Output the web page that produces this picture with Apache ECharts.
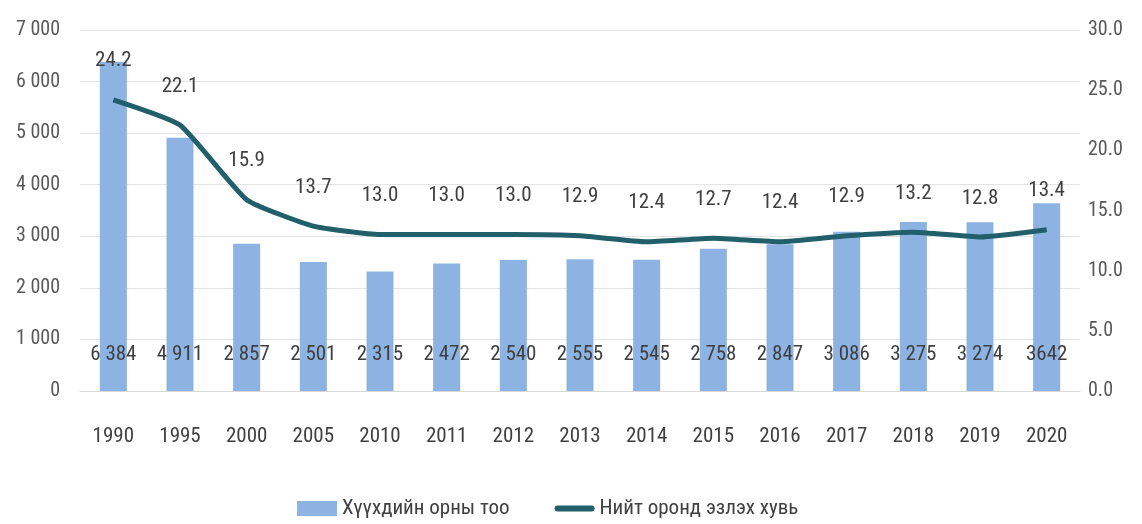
<!DOCTYPE html>
<html><head><meta charset="utf-8">
<script src="https://cdn.jsdelivr.net/npm/echarts@6/dist/echarts.min.js"></script>
<style>html,body{margin:0;padding:0;background:#fff}#c{width:1142px;height:524px}</style>
</head><body><div id="c"></div>
<script>
const categories = ['1990','1995','2000','2005','2010','2011','2012','2013','2014','2015','2016','2017','2018','2019','2020'];
const bedCounts = [6384, 4911, 2857, 2501, 2315, 2472, 2540, 2555, 2545, 2758, 2847, 3086, 3275, 3274, 3642];
const bedLabels = ['6 384','4 911','2 857','2 501','2 315','2 472','2 540','2 555','2 545','2 758','2 847','3 086','3 275','3 274','3642'];
const occupancy = [24.2, 22.1, 15.9, 13.7, 13.0, 13.0, 13.0, 12.9, 12.4, 12.7, 12.4, 12.9, 13.2, 12.8, 13.4];
const leftTicks = ['0','1 000','2 000','3 000','4 000','5 000','6 000','7 000'];

const FONT = '"Liberation Sans Narrow","Roboto Condensed",Roboto,sans-serif';
const chart = echarts.init(document.getElementById('c'));
chart.setOption({
  animation: false,
  textStyle: {fontFamily: FONT},
  grid: {left: 80, right: 62, top: 30, bottom: 133},
  legend: {
    bottom: 0, left: 292, itemGap: 45, itemWidth: 40, itemHeight: 15,
    textStyle: {fontFamily: FONT, fontSize: 21, color: '#404040'},
    data: [
      {name: 'Хүүхдийн орны тоо', icon: 'rect'},
      {name: 'Нийт оронд эзлэх хувь', icon: 'path://M3,0 L37,0 A3,3 0 0 1 37,6 L3,6 A3,3 0 0 1 3,0 Z'}
    ]
  },
  xAxis: {
    type: 'category', data: categories,
    axisLine: {show: true, lineStyle: {color: '#d9d9d9'}},
    axisTick: {show: false},
    axisLabel: {fontFamily: FONT, fontSize: 21, color: '#404040', margin: 35}
  },
  yAxis: [{
    type: 'value', min: 0, max: 7000, interval: 1000,
    axisLine: {show: false}, axisTick: {show: false},
    splitLine: {lineStyle: {color: '#e3e3e3', width: 1}},
    axisLabel: {fontFamily: FONT, fontSize: 20, color: '#595959', margin: 20,
      formatter: (v) => leftTicks[Math.round(v / 1000)]}
  }, {
    type: 'value', min: 0, max: 30, interval: 5,
    axisLine: {show: false}, axisTick: {show: false}, splitLine: {show: false},
    axisLabel: {fontFamily: FONT, fontSize: 20, color: '#595959', margin: 8,
      formatter: (v) => v.toFixed(1)}
  }],
  series: [{
    name: 'Хүүхдийн орны тоо', type: 'bar', data: bedCounts, barWidth: 27,
    itemStyle: {color: '#8db3e2'},
    label: {show: true, position: 'insideBottom', distance: 26,
      fontFamily: FONT, fontSize: 21, color: '#404040',
      formatter: (p) => bedLabels[p.dataIndex]}
  }, {
    name: 'Нийт оронд эзлэх хувь', type: 'line', yAxisIndex: 1, data: occupancy,
    symbol: 'circle', symbolSize: 0.1, showSymbol: true, smooth: 0.15,
    lineStyle: {color: '#215f6b', width: 5},
    itemStyle: {color: '#215f6b'},
    label: {show: true, position: 'top', distance: 28,
      fontFamily: FONT, fontSize: 21, color: '#404040',
      formatter: (p) => p.value.toFixed(1)}
  }]
});
</script></body></html>
